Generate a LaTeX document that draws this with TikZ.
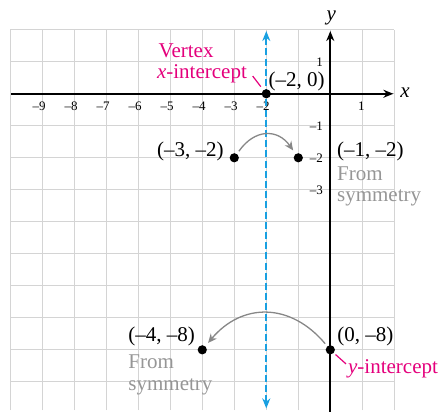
\documentclass[tikz,border=0pt]{standalone}
\usepackage{fontspec}
\setmainfont{Liberation Serif}
\usetikzlibrary{arrows.meta}
\definecolor{mag}{RGB}{228,0,124}
\definecolor{cyanl}{RGB}{25,160,225}
\definecolor{gridc}{RGB}{212,212,212}
\definecolor{graytxt}{RGB}{150,150,150}
\definecolor{grayarc}{RGB}{135,135,135}
\begin{document}
\begin{tikzpicture}[x=16pt,y=16pt,
  gridline/.style={draw=gridc,line width=0.6pt},
  axis/.style={line width=0.85pt,-{Stealth[length=5pt,width=4pt]}},
  sym/.style={draw=cyanl,line width=1pt,dash pattern=on 3.5pt off 1.6pt,
    {Stealth[length=5pt,width=4pt]}-{Stealth[length=5pt,width=4pt]}},
  dot/.style={circle,fill=black,inner sep=0pt,minimum size=4.6pt},
  lbl/.style={font=\fontsize{10.5}{12}\selectfont,inner sep=0pt},
  tick/.style={font=\fontsize{6.5}{7}\selectfont,inner sep=0pt},
  note/.style={lbl,text=graytxt},
  callout/.style={lbl,text=mag},
  arcarrow/.style={draw=grayarc,line width=0.65pt,-{Stealth[length=4.5pt,width=4pt]}},
  leader/.style={draw=mag,line width=0.6pt}
]
\useasboundingbox (-10.32,-9.92) rectangle (3.49,2.93);
% grid
\draw[gridline,step=16pt] (-10,-9.88) grid (2,2);
% axes
\coordinate (xl) at (-9.97,0);
\coordinate (xr) at (1.97,0);
\coordinate (yb) at (0,-9.95);
\coordinate (yt) at (0,1.96);
\draw[axis] (xl) -- (xr);
\draw[axis] (yb) -- (yt);
\node[lbl,anchor=base west] (xlab) at (2.18,-0.13) {\itshape x};
\node[lbl,anchor=base west] (ylab) at (-0.13,2.30) {\itshape y};
% tick labels
\foreach \i in {9,8,...,2}
  \node[tick] (tx\i) at (-\i-0.1,-0.395) {–\i};
\node[tick] (txp1) at (0.97,-0.395) {1};
\node[tick,anchor=east] (ty1) at (-0.22,1) {1};
\foreach \i in {1,2,3}
  \node[tick,anchor=east] (tym\i) at (-0.22,-\i) {–\i};
% axis of symmetry
\coordinate (st) at (-2,1.96);
\coordinate (sb) at (-2,-9.83);
\draw[sym] (sb) -- (st);
% points
\node[dot] (v) at (-2,0) {};
\node[dot] (pa) at (-3,-2) {};
\node[dot] (pb) at (-1,-2) {};
\node[dot] (pc) at (-4,-8) {};
\node[dot] (pd) at (0,-8) {};
% symmetry arcs
\draw[arcarrow,shorten <=1.5pt,shorten >=2pt] (pa) to[out=55,in=125,looseness=1.35] (pb);
\draw[arcarrow,shorten <=1.5pt,shorten >=2pt] (pd) to[out=130,in=50,looseness=1.2] (pc);
% labels
\node[callout,anchor=base west] (vtx) at (-5.375,1.147) {Vertex};
\node[callout,anchor=base west] (xint) at (-5.425,0.49) {{\itshape x}-intercept};
\coordinate (la) at (-2.425,0.553);
\draw[leader,shorten >=2pt] (la) -- (v);
\node[lbl,anchor=base west] (lv) at (-1.94,0.225) {(–2, 0)};
\node[lbl,anchor=base west] (la3) at (-5.425,-1.97) {(–3, –2)};
\node[lbl,anchor=base west] (lb1) at (0.2,-1.97) {(–1, –2)};
\node[note,anchor=base west] (from1) at (0.2,-2.70) {From};
\node[note,anchor=base west] (sym1) at (0.2,-3.36) {symmetry};
\node[lbl,anchor=base west] (lc4) at (-6.32,-7.73) {(–4, –8)};
\node[note,anchor=base west] (from2) at (-6.32,-8.58) {From};
\node[note,anchor=base west] (sym2) at (-6.32,-9.26) {symmetry};
\node[lbl,anchor=base west] (ld0) at (0.21,-7.73) {(0, –8)};
\node[callout,anchor=base west] (yint) at (0.544,-8.73) {{\itshape y}-intercept};
\coordinate (lb) at (0.49,-8.44);
\draw[leader,shorten <=1pt] (pd) -- (lb);
\end{tikzpicture}
\end{document}
